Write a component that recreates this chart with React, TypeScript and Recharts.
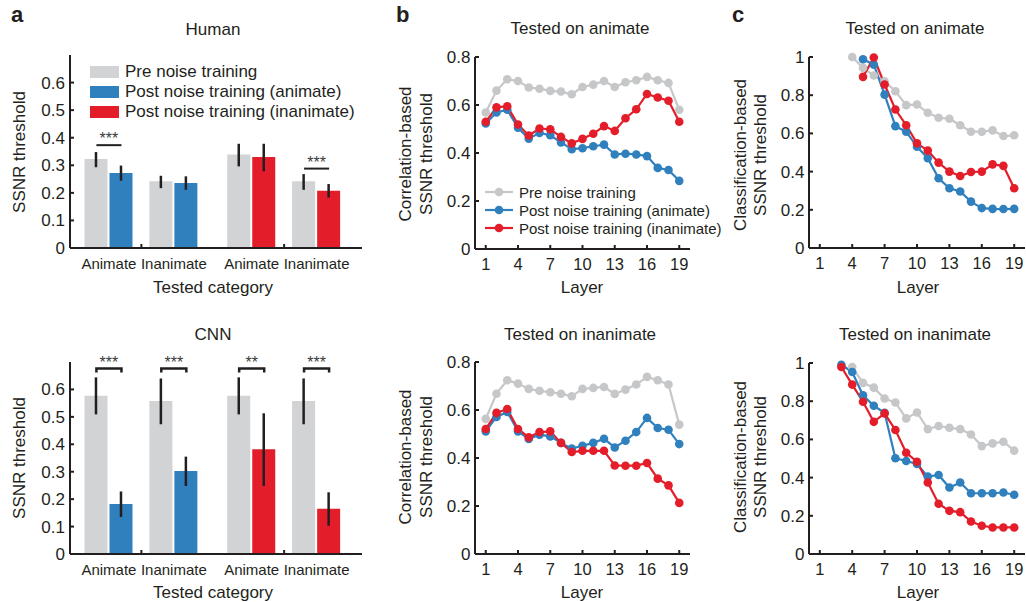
import {
  BarChart, Bar, Cell, ErrorBar, LineChart, Line, XAxis, YAxis,
  Legend, ReferenceLine, ReferenceDot,
} from 'recharts';

const FONT = '"Liberation Sans", Arial, Helvetica, sans-serif';
const INK = '#231f20';
const BAR_GRAY = '#d1d3d4';
const BLUE = '#3080be';
const RED = '#e31e2a';
const LINE_GRAY = '#c6c7c9';

// ---- a: thresholds by tested category (human / CNN) ----
const groupPos = [1, 2, 3.2, 4.2];
const groupNames = ['Animate', 'Inanimate', 'Animate', 'Inanimate'];
const groupSplits = [1.5, 3.7];
const postColors = [BLUE, BLUE, RED, RED];
const barTicks = [0, 0.1, 0.2, 0.3, 0.4, 0.5, 0.6];

const humanPre = [0.323, 0.242, 0.339, 0.242];
const humanPreLow = [0.293, 0.217, 0.296, 0.211];
const humanPreHigh = [0.348, 0.262, 0.378, 0.268];
const humanPost = [0.272, 0.236, 0.330, 0.208];
const humanPostLow = [0.244, 0.211, 0.278, 0.183];
const humanPostHigh = [0.299, 0.260, 0.378, 0.232];

const cnnPre = [0.577, 0.558, 0.577, 0.558];
const cnnPreLow = [0.509, 0.473, 0.509, 0.473];
const cnnPreHigh = [0.644, 0.640, 0.644, 0.640];
const cnnPost = [0.182, 0.303, 0.382, 0.165];
const cnnPostLow = [0.135, 0.248, 0.248, 0.103];
const cnnPostHigh = [0.228, 0.355, 0.513, 0.225];

const humanSigGroups = [0, 3];
const humanSigLevels = [0.373, 0.288];
const humanSigStars = ['***', '***'];
const cnnSigGroups = [0, 1, 2, 3];
const cnnSigLevels = [0.676, 0.676, 0.676, 0.676];
const cnnSigStars = ['***', '***', '**', '***'];

const legendLabels = ['Pre noise training', 'Post noise training (animate)', 'Post noise training (inanimate)'];
const legendColors = [BAR_GRAY, BLUE, RED];

// ---- b, c: thresholds across network layers ----
const layers = [1, 2, 3, 4, 5, 6, 7, 8, 9, 10, 11, 12, 13, 14, 15, 16, 17, 18, 19];
const layerTicks = [1, 4, 7, 10, 13, 16, 19];

const corrAnimPre = [0.569, 0.66, 0.707, 0.70, 0.673, 0.668, 0.659, 0.656, 0.645, 0.675, 0.685, 0.70, 0.675, 0.695, 0.703, 0.717, 0.703, 0.692, 0.58];
const corrAnimPostA = [0.523, 0.569, 0.58, 0.505, 0.46, 0.484, 0.474, 0.444, 0.416, 0.42, 0.428, 0.435, 0.394, 0.397, 0.394, 0.387, 0.338, 0.329, 0.284];
const corrAnimPostI = [0.53, 0.59, 0.595, 0.519, 0.473, 0.502, 0.499, 0.467, 0.44, 0.459, 0.48, 0.512, 0.492, 0.545, 0.582, 0.646, 0.631, 0.618, 0.53];

const corrInanPre = [0.563, 0.668, 0.724, 0.71, 0.688, 0.68, 0.674, 0.668, 0.657, 0.688, 0.692, 0.696, 0.667, 0.685, 0.706, 0.738, 0.724, 0.706, 0.539];
const corrInanPostA = [0.511, 0.571, 0.592, 0.511, 0.479, 0.497, 0.49, 0.463, 0.439, 0.451, 0.463, 0.48, 0.444, 0.472, 0.508, 0.567, 0.525, 0.518, 0.458];
const corrInanPostI = [0.521, 0.588, 0.604, 0.521, 0.486, 0.508, 0.511, 0.463, 0.425, 0.43, 0.43, 0.43, 0.369, 0.368, 0.368, 0.379, 0.314, 0.286, 0.213];

const clsAnimPre = [null, null, null, 1.0, 0.943, 0.903, 0.873, 0.821, 0.748, 0.751, 0.708, 0.682, 0.677, 0.643, 0.609, 0.609, 0.616, 0.586, 0.59];
const clsAnimPostA = [null, null, null, null, 0.988, 0.96, 0.803, 0.638, 0.609, 0.53, 0.47, 0.365, 0.313, 0.296, 0.243, 0.209, 0.205, 0.204, 0.205];
const clsAnimPostI = [null, null, null, null, 0.896, 0.997, 0.856, 0.725, 0.643, 0.548, 0.51, 0.447, 0.40, 0.377, 0.398, 0.40, 0.438, 0.43, 0.313];

const clsInanPre = [null, null, null, 0.979, 0.896, 0.871, 0.814, 0.793, 0.71, 0.741, 0.654, 0.67, 0.661, 0.654, 0.626, 0.565, 0.579, 0.588, 0.541];
const clsInanPostA = [null, null, 0.991, 0.953, 0.831, 0.776, 0.739, 0.501, 0.487, 0.471, 0.405, 0.414, 0.348, 0.374, 0.318, 0.318, 0.318, 0.322, 0.31];
const clsInanPostI = [null, null, 0.979, 0.887, 0.797, 0.692, 0.736, 0.649, 0.53, 0.483, 0.374, 0.263, 0.226, 0.219, 0.17, 0.148, 0.139, 0.139, 0.139];

const corrTicks = [0, 0.2, 0.4, 0.6, 0.8];
const clsTicks = [0, 0.2, 0.4, 0.6, 0.8, 1];

// half distance between the two bar centres of a pair, in x units
const PAIR_HALF = 0.193;

function barRows(pre: number[], preLow: number[], preHigh: number[], post: number[], postLow: number[], postHigh: number[]) {
  return groupPos.map((x, i) => ({
    x,
    pre: pre[i],
    post: post[i],
    preErr: [pre[i] - preLow[i], preHigh[i] - pre[i]],
    postErr: [post[i] - postLow[i], postHigh[i] - post[i]],
  }));
}

function layerRows(pre: (number | null)[], postA: (number | null)[], postI: (number | null)[]) {
  return layers.map((layer, i) => ({ layer, pre: pre[i], postA: postA[i], postI: postI[i] }));
}

const fmt = (v: number) => (v === 0 ? '0' : v === 1 ? '1' : String(v));

function CategoryTick({ x, y, payload }: any) {
  const i = groupPos.indexOf(payload.value);
  if (i < 0) return <line x1={x} x2={x} y1={y} y2={y - 4} stroke={INK} strokeWidth={2} />;
  return (
    <text x={x} y={y + 21} textAnchor="middle" fontFamily={FONT} fontSize={15} fill={INK}>
      {groupNames[i]}
    </text>
  );
}

const bracketShape = (props: any) => {
  const { x1, y1, x2, y2 } = props;
  return <path d={`M${x1},${y1 + 4}L${x1},${y1}L${x2},${y2}L${x2},${y2 + 4}`} fill="none" stroke={INK} strokeWidth={2.5} />;
};

const plainShape = (props: any) => {
  const { x1, y1, x2, y2 } = props;
  return <line x1={x1} y1={y1} x2={x2} y2={y2} stroke={INK} strokeWidth={2} />;
};

const barLegend = () => (
  <div style={{ fontFamily: FONT, fontSize: 17, color: INK, lineHeight: '20px' }}>
    {legendLabels.map((label, i) => (
      <div key={label} style={{ display: 'flex', alignItems: 'center', height: 20, whiteSpace: 'nowrap' }}>
        <span style={{ display: 'inline-block', width: 29, height: 12, background: legendColors[i], marginRight: 6 }} />
        <span>{label}</span>
      </div>
    ))}
  </div>
);

const lineColors = [LINE_GRAY, BLUE, RED];
const lineLegend = () => (
  <div style={{ fontFamily: FONT, fontSize: 15, color: INK }}>
    {legendLabels.map((label, i) => (
      <div key={label} style={{ display: 'flex', alignItems: 'center', height: 18, whiteSpace: 'nowrap' }}>
        <svg width={28} height={10} style={{ marginRight: 6 }}>
          <line x1={0} x2={28} y1={5} y2={5} stroke={lineColors[i]} strokeWidth={2.2} />
          <circle cx={14} cy={5} r={4.3} fill={lineColors[i]} />
        </svg>
        <span>{label}</span>
      </div>
    ))}
  </div>
);

interface BarPanelProps {
  rows: ReturnType<typeof barRows>;
  height: number;
  marginTop: number;
  axisHeight: number;
  sigGroups: number[];
  sigLevels: number[];
  sigStars: string[];
  bracket: boolean;
  legend?: boolean;
}

function BarPanel({ rows, height, marginTop, axisHeight, sigGroups, sigLevels, sigStars, bracket, legend }: BarPanelProps) {
  return (
    <BarChart width={370} height={height} data={rows} barSize={23} barGap={2}
      margin={{ top: marginTop, right: 8, bottom: 0, left: 0 }}>
      <XAxis dataKey="x" type="number" domain={[0.4, 4.9]} allowDataOverflow
        ticks={[...groupPos, ...groupSplits].sort((a, b) => a - b)} interval={0}
        tickLine={false} tickSize={0} tickMargin={0} height={axisHeight}
        axisLine={{ stroke: INK, strokeWidth: 2 }} tick={<CategoryTick />} />
      <YAxis type="number" domain={[0, 0.7]} ticks={barTicks} width={70} tickFormatter={fmt}
        tickSize={-4} tickMargin={9} interval={0}
        axisLine={{ stroke: INK, strokeWidth: 2 }} tickLine={{ stroke: INK, strokeWidth: 2 }}
        tick={{ fontFamily: FONT, fontSize: 17, fill: INK }} />
      <Bar dataKey="pre" fill={BAR_GRAY} isAnimationActive={false}>
        <ErrorBar dataKey="preErr" width={0} stroke={INK} strokeWidth={2.5} />
      </Bar>
      <Bar dataKey="post" fill={BLUE} isAnimationActive={false}>
        {rows.map((r, i) => <Cell key={r.x} fill={postColors[i]} />)}
        <ErrorBar dataKey="postErr" width={0} stroke={INK} strokeWidth={2.5} />
      </Bar>
      {sigGroups.map((g, i) => (
        <ReferenceLine key={`l${g}`} ifOverflow="visible"
          segment={[{ x: groupPos[g] - PAIR_HALF, y: sigLevels[i] }, { x: groupPos[g] + PAIR_HALF, y: sigLevels[i] }]}
          shape={bracket ? bracketShape : plainShape} />
      ))}
      {sigGroups.map((g, i) => (
        <ReferenceDot key={`s${g}`} x={groupPos[g]} y={sigLevels[i]} r={0} stroke="none" ifOverflow="visible"
          label={{ value: sigStars[i], position: 'top', offset: 1, fontSize: 16, fill: '#3b3b3b', fontFamily: FONT }} />
      ))}
      {legend && (
        <Legend layout="vertical" align="center" verticalAlign="middle" content={barLegend}
          wrapperStyle={{ left: 90, top: 62, width: 'auto' }} />
      )}
    </BarChart>
  );
}

interface LinePanelProps {
  rows: ReturnType<typeof layerRows>;
  width: number;
  height: number;
  axisWidth: number;
  marginTop: number;
  marginRight: number;
  axisHeight: number;
  yMax: number;
  yTicks: number[];
  legend?: boolean;
}

function LinePanel({ rows, width, height, axisWidth, marginTop, marginRight, axisHeight, yMax, yTicks, legend }: LinePanelProps) {
  const series = [
    { key: 'pre', color: LINE_GRAY },
    { key: 'postA', color: BLUE },
    { key: 'postI', color: RED },
  ];
  return (
    <LineChart width={width} height={height} data={rows}
      margin={{ top: marginTop, right: marginRight, bottom: 0, left: 0 }}>
      <XAxis dataKey="layer" type="number" domain={[0, 20]} ticks={layerTicks} interval={0}
        height={axisHeight} tickSize={-4} tickMargin={13}
        axisLine={{ stroke: INK, strokeWidth: 2 }} tickLine={{ stroke: INK, strokeWidth: 2 }}
        tick={{ fontFamily: FONT, fontSize: 16.5, fill: INK }} />
      <YAxis type="number" domain={[0, yMax]} ticks={yTicks} width={axisWidth} tickFormatter={fmt}
        tickSize={-4} tickMargin={8.5} interval={0}
        axisLine={{ stroke: INK, strokeWidth: 2 }} tickLine={{ stroke: INK, strokeWidth: 2 }}
        tick={{ fontFamily: FONT, fontSize: 17, fill: INK }} />
      {series.map(s => (
        <Line key={s.key} dataKey={s.key} type="linear" stroke={s.color} strokeWidth={2.2}
          dot={{ r: 4.3, fill: s.color, stroke: s.color, strokeWidth: 0 }}
          activeDot={false} isAnimationActive={false} />
      ))}
      {legend && (
        <Legend layout="vertical" align="center" verticalAlign="middle" content={lineLegend}
          wrapperStyle={{ left: 115, top: 183, width: 'auto' }} />
      )}
    </LineChart>
  );
}

function Text({ x, y, size, bold, children }: { x: number; y: number; size: number; bold?: boolean; children: React.ReactNode }) {
  return (
    <div style={{
      position: 'absolute', left: x, top: y, transform: 'translate(-50%, -50%)',
      fontFamily: FONT, fontSize: size, fontWeight: bold ? 700 : 400, color: INK,
      lineHeight: 1, whiteSpace: 'nowrap',
    }}>{children}</div>
  );
}

function VText({ x, y, lines, gap }: { x: number; y: number; lines: string[]; gap: number }) {
  return (
    <div style={{
      position: 'absolute', left: x, top: y, transform: 'translate(-50%, -50%) rotate(-90deg)',
      fontFamily: FONT, fontSize: 17, color: INK, lineHeight: `${gap}px`, whiteSpace: 'nowrap', textAlign: 'center',
    }}>
      {lines.map(l => <div key={l}>{l}</div>)}
    </div>
  );
}

function Letter({ x, children }: { x: number; children: React.ReactNode }) {
  return (
    <div style={{
      position: 'absolute', left: x, top: 4, fontFamily: FONT, fontSize: 22, fontWeight: 700,
      color: INK, lineHeight: 1,
    }}>{children}</div>
  );
}

export default function App() {
  return (
    <div style={{ position: 'absolute', left: 0, top: 0, width: 1026, height: 602, background: '#fff', overflow: 'hidden' }}>
      <div style={{ position: 'absolute', left: 0, top: 0 }}>
        <BarPanel rows={barRows(humanPre, humanPreLow, humanPreHigh, humanPost, humanPostLow, humanPostHigh)}
          height={300} marginTop={55} axisHeight={52}
          sigGroups={humanSigGroups} sigLevels={humanSigLevels} sigStars={humanSigStars} bracket={false} legend />
      </div>
      <div style={{ position: 'absolute', left: 0, top: 300 }}>
        <BarPanel rows={barRows(cnnPre, cnnPreLow, cnnPreHigh, cnnPost, cnnPostLow, cnnPostHigh)}
          height={302} marginTop={62} axisHeight={48}
          sigGroups={cnnSigGroups} sigLevels={cnnSigLevels} sigStars={cnnSigStars} bracket />
      </div>

      <div style={{ position: 'absolute', left: 370, top: 0 }}>
        <LinePanel rows={layerRows(corrAnimPre, corrAnimPostA, corrAnimPostI)} width={360} height={300}
          axisWidth={105} marginTop={57} marginRight={40} axisHeight={51} yMax={0.8} yTicks={corrTicks} legend />
      </div>
      <div style={{ position: 'absolute', left: 370, top: 300 }}>
        <LinePanel rows={layerRows(corrInanPre, corrInanPostA, corrInanPostI)} width={360} height={302}
          axisWidth={105} marginTop={62} marginRight={40} axisHeight={48} yMax={0.8} yTicks={corrTicks} />
      </div>

      <div style={{ position: 'absolute', left: 720, top: 0 }}>
        <LinePanel rows={layerRows(clsAnimPre, clsAnimPostA, clsAnimPostI)} width={306} height={300}
          axisWidth={89} marginTop={57} marginRight={1} axisHeight={52} yMax={1} yTicks={clsTicks} />
      </div>
      <div style={{ position: 'absolute', left: 720, top: 300 }}>
        <LinePanel rows={layerRows(clsInanPre, clsInanPostA, clsInanPostI)} width={306} height={302}
          axisWidth={89} marginTop={63} marginRight={1} axisHeight={48} yMax={1} yTicks={clsTicks} />
      </div>

      <Letter x={11}>a</Letter>
      <Letter x={396}>b</Letter>
      <Letter x={732}>c</Letter>

      <Text x={213} y={29} size={17}>Human</Text>
      <Text x={213} y={334} size={17}>CNN</Text>
      <Text x={580} y={28} size={17}>Tested on animate</Text>
      <Text x={580} y={334} size={17}>Tested on inanimate</Text>
      <Text x={915} y={28} size={17}>Tested on animate</Text>
      <Text x={915} y={334} size={17}>Tested on inanimate</Text>

      <Text x={213} y={287} size={17}>Tested category</Text>
      <Text x={213} y={592} size={17}>Tested category</Text>
      <Text x={582} y={287} size={17}>Layer</Text>
      <Text x={582} y={592} size={17}>Layer</Text>
      <Text x={918} y={287} size={17}>Layer</Text>
      <Text x={918} y={592} size={17}>Layer</Text>

      <VText x={20} y={152} lines={['SSNR threshold']} gap={20} />
      <VText x={20} y={458} lines={['SSNR threshold']} gap={20} />
      <VText x={415.5} y={154} lines={['Correlation-based', 'SSNR threshold']} gap={21} />
      <VText x={415.5} y={457} lines={['Correlation-based', 'SSNR threshold']} gap={21} />
      <VText x={750} y={155} lines={['Classification-based', 'SSNR threshold']} gap={19.5} />
      <VText x={750} y={457} lines={['Classification-based', 'SSNR threshold']} gap={19.5} />
    </div>
  );
}
